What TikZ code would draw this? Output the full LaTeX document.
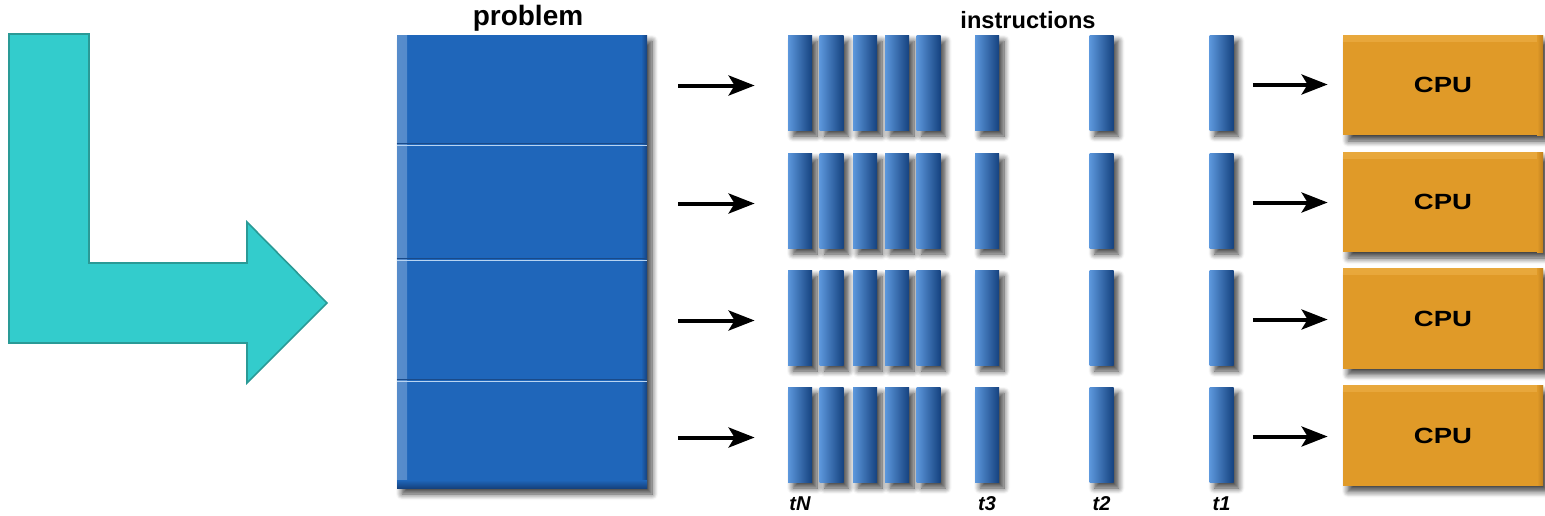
\documentclass[tikz,border=0pt]{standalone}
\usepackage{fontspec}
\setmainfont{Liberation Sans}
\usetikzlibrary{shadows.blur,arrows.meta}

\definecolor{tealfill}{HTML}{33CCCC}
\definecolor{tealline}{HTML}{2A9A96}
\definecolor{blk}{HTML}{1F66BA}
\definecolor{blklight}{HTML}{5C97DC}
\definecolor{blkdark}{HTML}{15427F}
\definecolor{cpuorange}{HTML}{E09A28}
\definecolor{cpulight}{HTML}{E8A83C}
\definecolor{cpudark}{HTML}{C0801E}
\definecolor{divlight}{HTML}{B8D4F2}
\definecolor{divdark}{HTML}{1A4A88}

\begin{document}
\begin{tikzpicture}[x=0.5pt,y=-0.5pt,
  softshadow/.style={blur shadow={shadow xshift=2.5pt,shadow yshift=-3pt,
      shadow blur radius=3pt,shadow blur steps=8,shadow opacity=75}},
  bar/.style={rectangle,inner sep=0pt,minimum width=12pt,minimum height=47.5pt,
      left color=blklight,middle color=blk,right color=blkdark,softshadow},
  probblock/.style={rectangle,inner sep=0pt,minimum width=125pt,minimum height=226.5pt,
      fill=blk,softshadow,
      path picture={
        \shade[left color=blk!75!white,right color=blk]
          (path picture bounding box.south west) rectangle
          ([xshift=5pt]path picture bounding box.north west);
        \shade[left color=blk,right color=blkdark]
          ([xshift=-3pt]path picture bounding box.south east) rectangle
          (path picture bounding box.north east);
        \shade[top color=blk,bottom color=blkdark]
          ([yshift=4pt]path picture bounding box.south west) rectangle
          (path picture bounding box.south east);}},
  chunk/.style={rectangle,inner sep=0pt,minimum width=125pt},
  cpubox/.style={rectangle,inner sep=0pt,minimum width=100pt,minimum height=50pt,
      fill=cpuorange,softshadow,font=\bfseries\fontsize{11}{13}\selectfont,
      path picture={
        \shade[top color=cpulight,bottom color=cpuorange]
          ([yshift=-3pt]path picture bounding box.north west) rectangle
          (path picture bounding box.north east);
        \shade[left color=cpuorange,right color=cpudark]
          ([xshift=-3pt]path picture bounding box.south east) rectangle
          (path picture bounding box.north east);}},
  heading/.style={inner sep=0pt,font=\bfseries\fontsize{14}{16}\selectfont},
  tlabel/.style={inner sep=0pt,font=\bfseries\itshape\fontsize{10}{12}\selectfont},
  feed/.style={line width=2pt,-{Stealth[length=13pt,width=10pt,inset=3pt]}},
  divider/.style={line width=0.6pt}
]
\useasboundingbox (0,0) rectangle (1545,515);

% bent arrow on the left
\filldraw[fill=tealfill,draw=tealline,line width=0.8pt]
  (9,34) -- (89,34) -- (89,263) -- (247,263) -- (247,222) -- (327,303)
  -- (247,383) -- (247,343) -- (9,343) -- cycle;

% the problem, cut into four parts
\node[heading] (ptitle) at (528,18) {problem};
\node[probblock] (prob) at (522,261.5) {};
\node[chunk,minimum height=55pt]   (c1) at (522,90)    {};
\node[chunk,minimum height=57.5pt] (c2) at (522,202.5) {};
\node[chunk,minimum height=60.5pt] (c3) at (522,320.5) {};
\node[chunk,minimum height=53.5pt] (c4) at (522,434.5) {};
\foreach \c in {c1,c2,c3}{
  \draw[divider,divdark] ([yshift=0.8pt]\c.south west) -- ([yshift=0.8pt]\c.south east);
  \draw[divider,divlight] (\c.south west) -- (\c.south east);
}

% instruction streams
\node[heading,font=\bfseries\fontsize{11.8}{14}\selectfont] (ititle) at (1028,20) {instructions};
\foreach \r/\y in {1/82.5,2/200.5,3/317.5,4/434.5}{
  \foreach \k/\x in {1/800,2/831.5,3/865,4/897,5/928.5,6/987,7/1101.5,8/1221.5}{
    \node[bar] (b\r-\k) at (\x,\y) {};
  }
}

% processors
\foreach \r/\y in {1/85,2/202,3/318.5,4/435.5}{
  \node[cpubox] (cpu\r) at (1443,\y) {\scalebox{1.25}[1]{CPU}};
}

% feeding arrows
\foreach \r in {1,2,3,4}{
  \draw[feed,shorten <=15.5pt,shorten >=16.5pt]
    ([yshift=-1.5pt]c\r.east |- b\r-1.west) -- ([yshift=-1.5pt]b\r-1.west);
  \draw[feed,shorten <=9.5pt,shorten >=7.5pt]
    ([yshift=-1pt]b\r-8.east) -- ([yshift=-1pt]cpu\r.west |- b\r-8.east);
}

% time steps
\node[tlabel] (tN) at (800,504)    {tN};
\node[tlabel] (t3) at (987,504)    {t3};
\node[tlabel] (t2) at (1101.5,504) {t2};
\node[tlabel] (t1) at (1221.5,504) {t1};
\end{tikzpicture}
\end{document}
